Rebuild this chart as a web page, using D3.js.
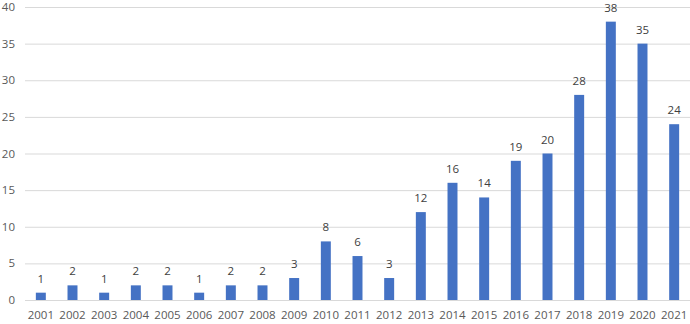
<!DOCTYPE html>
<html><head><meta charset="utf-8">
<script src="https://cdn.jsdelivr.net/npm/d3@7/dist/d3.min.js"></script>
<style>body{margin:0;background:#fff;} svg{display:block;}</style>
</head><body>
<svg id="c" width="690" height="324"></svg>
<script>
const years = ["2001","2002","2003","2004","2005","2006","2007","2008","2009","2010","2011","2012","2013","2014","2015","2016","2017","2018","2019","2020","2021"];
const counts = [1,2,1,2,2,1,2,2,3,8,6,3,12,16,14,19,20,28,38,35,24];
const yTicks = [0,5,10,15,20,25,30,35,40];

const svg = d3.select("#c");
const m = {left:25, right:0, top:7, bottom:24};
const W = 690, H = 324;
const x = d3.scaleBand().domain(years).range([m.left, W - m.right]).paddingInner(0.685).paddingOuter(0.3425);
const y = d3.scaleLinear().domain([0,40]).range([H - m.bottom, m.top]);
const font = "'Open Sans', sans-serif";
const txt = "#595959";

svg.append("g").selectAll("line").data(yTicks).join("line")
  .attr("x1", m.left).attr("x2", W - m.right)
  .attr("y1", d => y(d) + 0.5).attr("y2", d => y(d) + 0.5)
  .attr("stroke", "#d9d9d9").attr("stroke-width", 1);

svg.append("g").selectAll("text").data(yTicks).join("text")
  .attr("x", 15).attr("y", d => y(d)).attr("dy", "0.35em")
  .attr("text-anchor", "end").attr("font-family", font).attr("font-size", 11.5).attr("fill", txt)
  .text(d => d);

svg.append("g").selectAll("rect").data(counts).join("rect")
  .attr("x", (d,i) => x(years[i])).attr("width", x.bandwidth())
  .attr("y", d => y(d)).attr("height", d => y(0) - y(d))
  .attr("fill", "#4472C4");

svg.append("g").selectAll("text").data(counts).join("text")
  .attr("x", (d,i) => x(years[i]) + x.bandwidth()/2).attr("y", d => y(d) - 10)
  .attr("text-anchor", "middle").attr("font-family", font).attr("font-size", 11.5).attr("fill", "#404040")
  .text(d => d);

svg.append("g").selectAll("text").data(years).join("text")
  .attr("x", d => x(d) + x.bandwidth()/2).attr("y", 315).attr("dy", "0.35em")
  .attr("text-anchor", "middle").attr("font-family", font).attr("font-size", 11.5).attr("fill", txt)
  .text(d => d);
</script>
</body></html>
